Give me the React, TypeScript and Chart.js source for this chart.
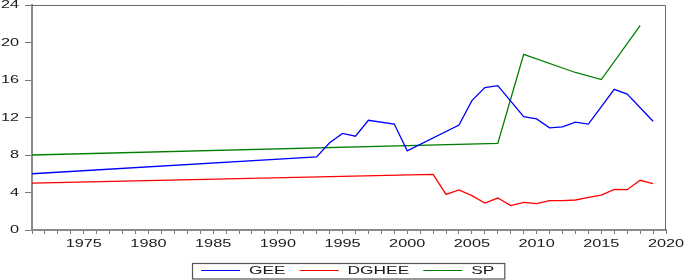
import { useEffect, useRef } from 'react';
import { Chart, registerables } from 'chart.js';

Chart.register(...registerables);

const YEARS: number[] = Array.from({ length: 50 }, (_, i) => 1971 + i);

const GEE_YEARS = [1971, 1993, 1994, 1995, 1996, 1997, 1999, 2000, 2004, 2005, 2006, 2007, 2009, 2010, 2011, 2012, 2013, 2014, 2016, 2017, 2019];
const GEE_VALUES = [6.0, 7.8, 9.3, 10.3, 10.0, 11.7, 11.3, 8.45, 11.2, 13.8, 15.2, 15.4, 12.1, 11.85, 10.9, 11.0, 11.5, 11.3, 15.0, 14.5, 11.6];

const DGHEE_YEARS = [1971, 2002, 2003, 2004, 2005, 2006, 2007, 2008, 2009, 2010, 2011, 2012, 2013, 2014, 2015, 2016, 2017, 2018, 2019];
const DGHEE_VALUES = [5.0, 5.93, 3.8, 4.27, 3.66, 2.88, 3.41, 2.6, 2.95, 2.81, 3.13, 3.13, 3.2, 3.49, 3.73, 4.34, 4.3, 5.3, 4.94];

const SP_YEARS = [1971, 2007, 2009, 2013, 2015, 2018];
const SP_VALUES = [8.0, 9.24, 18.74, 16.8, 16.04, 21.8];

const Y_MIN = 0;
const Y_MAX = 24;
const Y_STEP = 4;
const X_LABEL_STEP = 5;

const toSeries = (ys: number[], vs: number[]) =>
  YEARS.map((yr) => {
    const i = ys.indexOf(yr);
    return i >= 0 ? vs[i] : null;
  });

const FONT = '10.5px "Liberation Sans", Arial, sans-serif';
const STRETCH = 1.55;
const LEGEND_STRETCH = 1.65;
const TEXT_COLOR = '#1a1a1a';

const drawStretched = (ctx: CanvasRenderingContext2D, text: string, x: number, y: number, align: CanvasTextAlign, sx: number) => {
  ctx.save();
  ctx.translate(x, y);
  ctx.scale(sx, 1);
  ctx.textAlign = align;
  ctx.textBaseline = 'alphabetic';
  ctx.fillText(text, 0, 0);
  ctx.restore();
};

const textPlugin = {
  id: 'evTexts',
  afterDraw(chart: any) {
    const ctx: CanvasRenderingContext2D = chart.ctx;
    const area = chart.chartArea;
    const xs = chart.scales.x;
    const ys = chart.scales.y;

    // frame (top and right)
    ctx.save();
    ctx.strokeStyle = '#6a6a6a';
    ctx.lineWidth = 1;
    ctx.beginPath();
    ctx.moveTo(area.left, area.top + 0.5);
    ctx.lineTo(area.right - 0.5, area.top + 0.5);
    ctx.lineTo(area.right - 0.5, area.bottom);
    ctx.stroke();
    ctx.restore();

    ctx.save();
    ctx.font = FONT;
    ctx.fillStyle = TEXT_COLOR;
    // y labels
    ys.ticks.forEach((t: any, i: number) => {
      const py = ys.getPixelForTick(i);
      drawStretched(ctx, String(t.value), area.left - 13, py + 3, 'right', STRETCH);
    });
    // x labels
    xs.ticks.forEach((t: any, i: number) => {
      const year = Number(xs.getLabelForValue(t.value));
      if (year % X_LABEL_STEP !== 0) return;
      const px = xs.getPixelForTick(i);
      drawStretched(ctx, String(year), px, area.bottom + 16.5, 'center', STRETCH);
    });

    // legend
    const items = chart.data.datasets.map((d: any) => ({ label: d.label, color: d.borderColor }));
    const boxLeft = 192;
    const boxTop = 263;
    const boxBottom = 279;
    const midY = 270.5;
    let x = boxLeft + 9;
    items.forEach((it: any, k: number) => {
      ctx.strokeStyle = it.color;
      ctx.lineWidth = 1.2;
      ctx.beginPath();
      ctx.moveTo(x, midY);
      ctx.lineTo(x + 39, midY);
      ctx.stroke();
      x += 39 + 9;
      ctx.fillStyle = TEXT_COLOR;
      drawStretched(ctx, it.label, x, midY + 3.5, 'left', LEGEND_STRETCH);
      x += ctx.measureText(it.label).width * LEGEND_STRETCH;
      x += k < items.length - 1 ? 14 : 10;
    });
    ctx.strokeStyle = '#555555';
    ctx.lineWidth = 1.2;
    ctx.strokeRect(boxLeft + 0.5, boxTop + 0.5, x - boxLeft, boxBottom - boxTop - 0.5);
    ctx.restore();
  },
};

export default function App() {
  const ref = useRef<HTMLCanvasElement | null>(null);

  useEffect(() => {
    document.body.style.margin = '0';
    const canvas = ref.current;
    if (!canvas) return;
    const common = {
      fill: false,
      pointRadius: 0,
      pointHoverRadius: 0,
      borderWidth: 1.3,
      tension: 0,
      spanGaps: true,
    };
    const chart = new Chart(canvas, {
      type: 'line',
      data: {
        labels: YEARS.map(String),
        datasets: [
          { ...common, label: 'GEE', data: toSeries(GEE_YEARS, GEE_VALUES), borderColor: '#0000ff' },
          { ...common, label: 'DGHEE', data: toSeries(DGHEE_YEARS, DGHEE_VALUES), borderColor: '#ff0000' },
          { ...common, label: 'SP', data: toSeries(SP_YEARS, SP_VALUES), borderColor: '#008000' },
        ],
      },
      options: {
        responsive: false,
        animation: false,
        events: [],
        layout: { padding: { top: 5, right: 19, left: 0, bottom: 0 } },
        plugins: {
          legend: { display: false },
          tooltip: { enabled: false },
        },
        scales: {
          x: {
            type: 'category',
            offset: false,
            grid: {
              offset: false,
              drawOnChartArea: false,
              drawTicks: true,
              tickLength: 4,
              color: '#7a7a7a',
              lineWidth: 1,
            },
            border: { display: true, color: '#8a8a8a', width: 2 },
            ticks: { display: false, autoSkip: false },
            afterFit: (s: any) => {
              s.height = 50;
            },
          },
          y: {
            type: 'linear',
            min: Y_MIN,
            max: Y_MAX,
            grid: {
              drawOnChartArea: false,
              drawTicks: true,
              tickLength: 7,
              color: '#7a7a7a',
              lineWidth: 1,
            },
            border: { display: true, color: '#8a8a8a', width: 2 },
            ticks: { display: false, stepSize: Y_STEP },
            afterFit: (s: any) => {
              s.width = 32;
            },
          },
        },
      },
      plugins: [textPlugin],
    });
    return () => chart.destroy();
  }, []);

  return (
    <canvas
      ref={ref}
      width={685}
      height={280}
      style={{ position: 'absolute', left: 0, top: 0, width: 685, height: 280, display: 'block' }}
    />
  );
}
